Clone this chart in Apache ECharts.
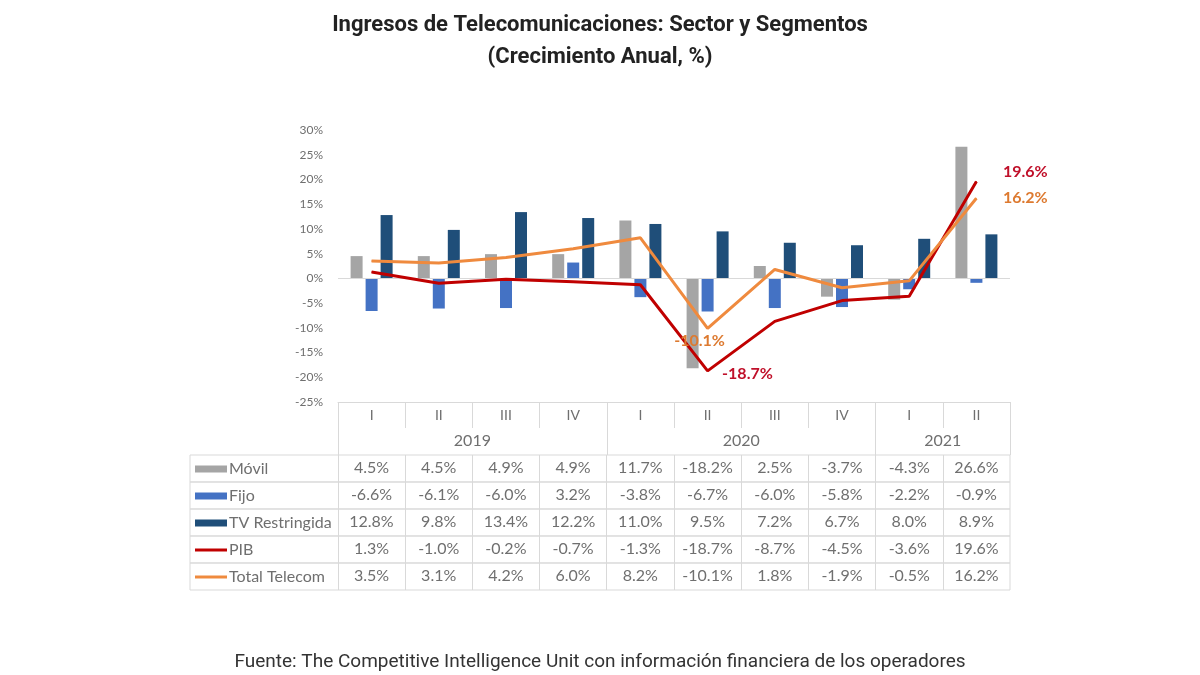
<!DOCTYPE html>
<html>
<head>
<meta charset="utf-8">
<title>Ingresos de Telecomunicaciones</title>
<script src="https://cdn.jsdelivr.net/npm/echarts@6/dist/echarts.min.js"></script>
<style>
  html, body { margin: 0; padding: 0; background: #fff; }
  #chart { width: 1200px; height: 675px; }
</style>
</head>
<body>
<div id="chart"></div>
<script>
// datos (crecimiento anual, %)
const quarters = ['I', 'II', 'III', 'IV', 'I', 'II', 'III', 'IV', 'I', 'II'];
const years = ['2019', '2020', '2021'];
const yearSpans = [4, 4, 2];
const movil = [4.5, 4.5, 4.9, 4.9, 11.7, -18.2, 2.5, -3.7, -4.3, 26.6];
const fijo = [-6.6, -6.1, -6.0, 3.2, -3.8, -6.7, -6.0, -5.8, -2.2, -0.9];
const tvRestringida = [12.8, 9.8, 13.4, 12.2, 11.0, 9.5, 7.2, 6.7, 8.0, 8.9];
const pib = [1.3, -1.0, -0.2, -0.7, -1.3, -18.7, -8.7, -4.5, -3.6, 19.6];
const totalTelecom = [3.5, 3.1, 4.2, 6.0, 8.2, -10.1, 1.8, -1.9, -0.5, 16.2];
const labeledPoints = [5, 9];

const chart = echarts.init(document.getElementById('chart'));

const FONT = 'Lato';
const GRID_LINE = '#d9d9d9';
const TEXT = '#6f6f6f';

const rows = [
  { name: 'Móvil', values: movil, color: '#a5a5a5', kind: 'bar' },
  { name: 'Fijo', values: fijo, color: '#4472c4', kind: 'bar' },
  { name: 'TV Restringida', values: tvRestringida, color: '#1f4e79', kind: 'bar' },
  { name: 'PIB', values: pib, color: '#c00000', kind: 'line' },
  { name: 'Total Telecom', values: totalTelecom, color: '#ef8a3e', kind: 'line' }
];

// columna de nombres, en unidades de celda
const nameCol = 2.2;
const rowH = 27;
const tableTop = 455;

const fmt = v => v.toFixed(1) + '%';

// centros y bordes de los grupos de años
const yearCenters = [];
const yearEdges = [0];
let acc = 0;
yearSpans.forEach(s => {
  yearCenters.push(acc + s / 2);
  acc += s;
  yearEdges.push(acc);
});

const cellCenters = quarters.map((q, i) => i + 0.5);
const cellEdges = quarters.map((q, i) => i);

const grids = [{ left: 338, right: 190, top: 130, height: 272 }];
const xAxes = [
  {
    type: 'category',
    gridIndex: 0,
    data: quarters,
    position: 'bottom',
    axisLine: { onZero: false, lineStyle: { color: GRID_LINE } },
    axisTick: { show: true, interval: 0, length: 26, lineStyle: { color: GRID_LINE } },
    axisLabel: { color: TEXT, fontFamily: FONT, fontSize: 14, margin: 6 },
    splitLine: { show: false }
  },
  {
    type: 'value',
    gridIndex: 0,
    min: 0,
    max: quarters.length,
    position: 'bottom',
    offset: 26,
    axisLine: { show: false, onZero: false },
    splitLine: { show: false },
    axisTick: { show: true, customValues: yearEdges, length: 27, lineStyle: { color: GRID_LINE } },
    axisLabel: {
      customValues: yearCenters,
      color: TEXT, fontFamily: FONT, fontSize: 16, margin: 5,
      formatter: v => years[yearCenters.indexOf(v)]
    }
  }
];
const yAxes = [
  {
    type: 'value',
    gridIndex: 0,
    min: -25,
    max: 30,
    interval: 5,
    axisLine: { show: false },
    axisTick: { show: false },
    splitLine: { show: false },
    axisLabel: { formatter: '{value}%', color: TEXT, fontFamily: FONT, fontSize: 12, margin: 15 }
  }
];

rows.forEach((r, i) => {
  const g = i + 1;
  grids.push({
    left: 190, right: 190, top: tableTop + rowH * i, height: rowH,
    show: true, borderColor: GRID_LINE, borderWidth: 1, backgroundColor: 'transparent'
  });
  // valores
  xAxes.push({
    type: 'value',
    gridIndex: g,
    min: -nameCol,
    max: quarters.length,
    position: 'top',
    axisLine: { show: false, onZero: false },
    splitLine: { show: false },
    axisTick: { show: true, inside: true, customValues: cellEdges, length: rowH, lineStyle: { color: GRID_LINE } },
    axisLabel: {
      inside: true,
      margin: 5,
      customValues: cellCenters,
      color: TEXT, fontFamily: FONT, fontSize: 16,
      formatter: v => fmt(r.values[Math.floor(v)])
    }
  });
  // nombre de la serie con su clave
  xAxes.push({
    type: 'value',
    gridIndex: g,
    min: -nameCol,
    max: quarters.length,
    position: 'bottom',
    axisLine: { show: false, onZero: false },
    splitLine: { show: false },
    axisTick: { show: false },
    axisLabel: {
      inside: true,
      margin: 5,
      align: 'left',
      customValues: [-nameCol],
      color: TEXT, fontFamily: FONT, fontSize: 16,
      formatter: () => '{s|}{' + (r.kind === 'bar' ? 'b' : 'l') + '|}{n|' + r.name + '}',
      rich: {
        s: { width: 5 },
        b: { width: 32, height: 7, backgroundColor: r.color, verticalAlign: 'middle' },
        l: { width: 32, height: 3, backgroundColor: r.color, verticalAlign: 'middle' },
        n: { padding: [0, 0, 0, 2], color: TEXT, fontFamily: FONT, fontSize: 16 }
      }
    }
  });
  yAxes.push({ type: 'value', gridIndex: g, min: 0, max: 1, show: false });
});

const labelStyles = {
  PIB: {
    5: { position: 'right', distance: 14, offset: [0, 3] },
    9: { position: 'right', distance: 26, offset: [0, -10] }
  },
  'Total Telecom': {
    5: { position: 'bottom', distance: 4, offset: [-8, 0] },
    9: { position: 'right', distance: 26, offset: [0, 0] }
  }
};
const labelColors = { PIB: '#c0102a', 'Total Telecom': '#dd7a30' };

const series = rows.map(r => {
  if (r.kind === 'bar') {
    return {
      name: r.name,
      type: 'bar',
      xAxisIndex: 0,
      yAxisIndex: 0,
      data: r.values,
      barWidth: 12,
      barGap: '25%',
      itemStyle: { color: r.color },
      silent: true
    };
  }
  return {
    name: r.name,
    type: 'line',
    xAxisIndex: 0,
    yAxisIndex: 0,
    symbol: 'circle',
    symbolSize: 1,
    showSymbol: true,
    lineStyle: { color: r.color, width: 3 },
    itemStyle: { color: r.color },
    z: 5,
    data: r.values.map((v, i) => {
      if (labeledPoints.indexOf(i) < 0) return v;
      return {
        value: v,
        label: Object.assign({
          show: true,
          formatter: p => fmt(p.value),
          color: labelColors[r.name],
          fontFamily: FONT,
          fontWeight: 'bold',
          fontSize: 16
        }, labelStyles[r.name][i])
      };
    })
  };
});

// línea del cero
series[0].markLine = {
  silent: true,
  symbol: ['none', 'none'],
  label: { show: false },
  lineStyle: { color: GRID_LINE, width: 1, type: 'solid' },
  data: [{ yAxis: 0 }]
};

chart.setOption({
  animation: false,
  backgroundColor: '#fff',
  title: [
    {
      text: 'Ingresos de Telecomunicaciones: Sector y Segmentos',
      left: 'center', top: 9,
      textStyle: { fontFamily: 'Roboto', fontWeight: 'bold', fontSize: 22, color: '#222' }
    },
    {
      text: '(Crecimiento Anual, %)',
      left: 'center', top: 41,
      textStyle: { fontFamily: 'Roboto', fontWeight: 'bold', fontSize: 22, color: '#222' }
    },
    {
      text: 'Fuente: The Competitive Intelligence Unit con información financiera de los operadores',
      left: 'center', top: 648,
      textStyle: { fontFamily: 'Roboto', fontWeight: 'normal', fontSize: 19, color: '#333' }
    }
  ],
  legend: { show: false },
  grid: grids,
  xAxis: xAxes,
  yAxis: yAxes,
  series: series
});
</script>
</body>
</html>
